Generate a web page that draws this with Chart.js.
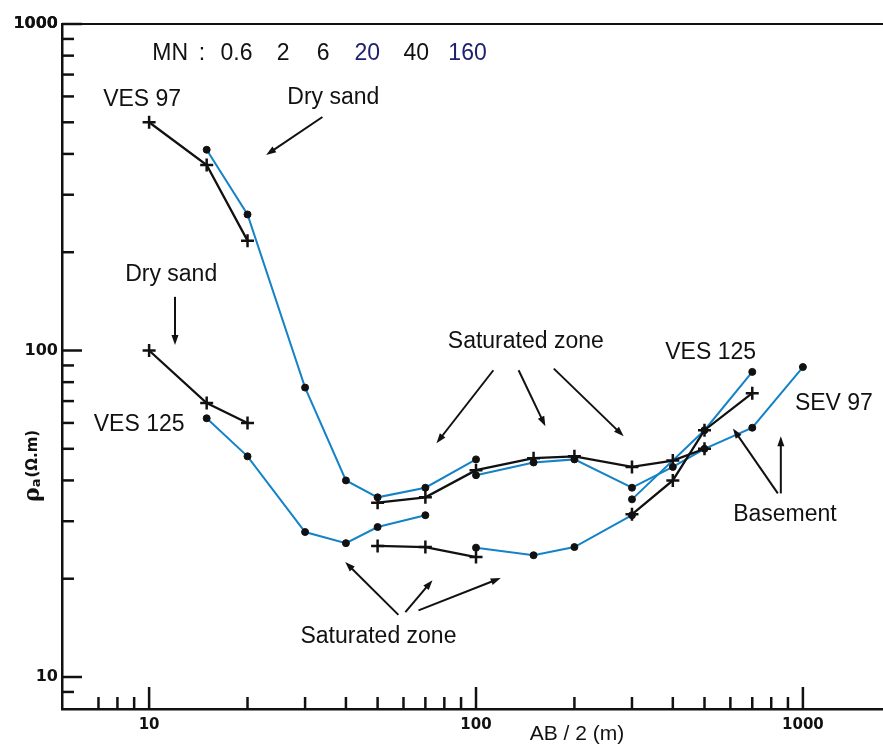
<!DOCTYPE html>
<html>
<head>
<meta charset="utf-8">
<script src="https://cdn.jsdelivr.net/npm/chart.js@4.4.1/dist/chart.umd.min.js"></script>
<style>
  html, body { margin: 0; padding: 0; background: #fff; }
  #wrap { width: 883px; height: 748px; }
</style>
</head>
<body>
<div id="wrap"><canvas id="soundingChart" width="883" height="748"></canvas></div>
<script>
// AB/2 (m) and apparent resistivity (ohm.m), one pair per MN segment
var ves97Seg1X = [10, 15, 20];
var ves97Seg1Y = [500, 370, 217];
var ves97Seg2X = [15, 20, 30, 40, 50, 70, 100];
var ves97Seg2Y = [412, 261, 77, 40, 35.5, 38, 46.4];
var ves97Seg3X = [50, 70, 100, 150, 200, 300, 400, 500];
var ves97Seg3Y = [34.2, 35.5, 43, 46.8, 47.4, 44, 46, 50];
var ves97Seg4X = [100, 150, 200, 300, 400, 500, 700, 1000];
var ves97Seg4Y = [41.5, 45.4, 46.4, 38, 44, 50, 58, 89];

var ves125Seg1X = [10, 15, 20];
var ves125Seg1Y = [100, 69, 60];
var ves125Seg2X = [15, 20, 30, 40, 50, 70];
var ves125Seg2Y = [62, 47.4, 27.8, 25.7, 28.8, 31.3];
var ves125Seg3X = [50, 70, 100];
var ves125Seg3Y = [25.2, 25, 23.3];
var ves125Seg4X = [100, 150, 200, 300];
var ves125Seg4Y = [24.9, 23.6, 25, 31.3];
var ves125Seg5X = [300, 400, 500, 700];
var ves125Seg5Y = [31.5, 40, 57, 74];
var ves125Seg6X = [300, 500, 700];
var ves125Seg6Y = [35, 57, 86];

// axis ticks
var xTicks = [7, 8, 9, 10, 20, 30, 40, 50, 60, 70, 80, 90, 100, 200, 300, 400, 500, 600, 700, 800, 900, 1000];
var yTicks = [9, 10, 20, 30, 40, 50, 60, 70, 80, 90, 100, 200, 300, 400, 500, 600, 700, 800, 900, 1000];
var majorTicks = [10, 100, 1000];
var mnLabels = ['MN', ':', '0.6', '2', '6', '20', '40', '160'];

// build one dataset for a segment: black crosses or blue line with dots
function segment(xs, ys, kind) {
  var cross = kind === 'cross';
  return {
    data: xs.map(function (x, i) { return { x: x, y: ys[i] }; }),
    showLine: true,
    borderColor: cross ? '#111' : '#1482c6',
    borderWidth: cross ? 2.3 : 2,
    pointStyle: cross ? 'cross' : 'circle',
    pointRadius: cross ? 6.5 : 3.5,
    pointBorderWidth: cross ? 2.5 : 1,
    pointBorderColor: '#111',
    pointBackgroundColor: '#111',
    tension: 0
  };
}

// annotation placement, in data units
var notes = [
  { text: 'VES 97', x: 9.52, y: 586 },
  { text: 'Dry sand', x: 36.6, y: 594 },
  { text: 'Dry sand', x: 11.68, y: 171 },
  { text: 'VES 125', x: 9.32, y: 59.4 },
  { text: 'Saturated zone', x: 142, y: 106.5 },
  { text: 'VES 125', x: 522, y: 98.6 },
  { text: 'SEV 97', x: 1244, y: 68.8 },
  { text: 'Basement', x: 881, y: 31.5 },
  { text: 'Saturated zone', x: 50.3, y: 13.25 }
];
var mnX = [11.6, 14.5, 18.5, 25.7, 34.1, 46.5, 65.7, 94.2];
var mnColor = ['#111', '#111', '#111', '#111', '#111', '#1c2270', '#111', '#1c2270'];
var arrows = [
  [33.9, 519, 22.8, 397],
  [12.0, 146, 12.0, 104],
  [113, 87, 75.7, 52],
  [135, 87, 163, 58.6],
  [173, 88, 283, 54.6],
  [57.9, 15.5, 39.8, 22.5],
  [60.8, 15.8, 73.6, 19.8],
  [66.7, 16.0, 119, 20.1],
  [838, 36.5, 611, 57.7],
  [856, 36.5, 856, 54.6]
];

var decor = {
  id: 'decor',
  afterDraw: function (chart) {
    var ctx = chart.ctx, sx = chart.scales.x, sy = chart.scales.y, a = chart.chartArea;
    ctx.save();
    ctx.strokeStyle = '#111';
    ctx.lineWidth = 2;
    // top frame line
    ctx.beginPath();
    ctx.moveTo(a.left, a.top);
    ctx.lineTo(a.right, a.top);
    ctx.stroke();
    // inward tick marks
    ctx.lineWidth = 2.5;
    yTicks.forEach(function (v) {
      var p = sy.getPixelForValue(v), len = majorTicks.indexOf(v) >= 0 ? 20 : 12;
      ctx.beginPath();
      ctx.moveTo(a.left, p);
      ctx.lineTo(a.left + len, p);
      ctx.stroke();
    });
    xTicks.forEach(function (v) {
      var p = sx.getPixelForValue(v), len = majorTicks.indexOf(v) >= 0 ? 22 : 12;
      ctx.beginPath();
      ctx.moveTo(p, a.bottom);
      ctx.lineTo(p, a.bottom - len);
      ctx.stroke();
    });
    // arrows
    ctx.lineWidth = 2;
    ctx.fillStyle = '#111';
    arrows.forEach(function (r) {
      var x1 = sx.getPixelForValue(r[0]), y1 = sy.getPixelForValue(r[1]);
      var x2 = sx.getPixelForValue(r[2]), y2 = sy.getPixelForValue(r[3]);
      var ang = Math.atan2(y2 - y1, x2 - x1);
      ctx.beginPath();
      ctx.moveTo(x1, y1);
      ctx.lineTo(x2 - 6 * Math.cos(ang), y2 - 6 * Math.sin(ang));
      ctx.stroke();
      ctx.beginPath();
      ctx.moveTo(x2, y2);
      ctx.lineTo(x2 - 10 * Math.cos(ang) + 3.5 * Math.sin(ang), y2 - 10 * Math.sin(ang) - 3.5 * Math.cos(ang));
      ctx.lineTo(x2 - 10 * Math.cos(ang) - 3.5 * Math.sin(ang), y2 - 10 * Math.sin(ang) + 3.5 * Math.cos(ang));
      ctx.closePath();
      ctx.fill();
    });
    // text notes
    ctx.font = '23px "Liberation Sans", Arial, sans-serif';
    ctx.textAlign = 'center';
    ctx.textBaseline = 'middle';
    notes.forEach(function (n) {
      ctx.fillText(n.text, sx.getPixelForValue(n.x), sy.getPixelForValue(n.y));
    });
    var mnY = sy.getPixelForValue(810);
    mnLabels.forEach(function (t, i) {
      ctx.fillStyle = mnColor[i];
      ctx.fillText(t, sx.getPixelForValue(mnX[i]), mnY);
    });
    // axis titles
    ctx.fillStyle = '#111';
    ctx.font = '21px "Liberation Sans", Arial, sans-serif';
    ctx.fillText('AB / 2 (m)', 577, 734);
    ctx.save();
    ctx.translate(33, 460);
    ctx.rotate(-Math.PI / 2);
    ctx.textAlign = 'left';
    ctx.font = 'bold 22px "DejaVu Serif", serif';
    ctx.fillText('\u03c1', -42, 0);
    var w = ctx.measureText('\u03c1').width;
    ctx.font = 'bold 13px "DejaVu Sans", sans-serif';
    ctx.fillText('a', -42 + w, 4);
    var w2 = ctx.measureText('a').width;
    ctx.font = 'bold 15px "DejaVu Sans", sans-serif';
    ctx.fillText('(\u03a9.m)', -42 + w + w2 + 1, 0);
    ctx.restore();
    ctx.restore();
  }
};

// an extra blank tick at each end keeps Chart.js from padding the axis for a label
function setTicks(list) {
  return function (s) {
    s.ticks = list.map(function (v) { return { value: v }; });
    s.ticks.push({ value: s.max });
    s.ticks.unshift({ value: s.min });
  };
}

var ctx = document.getElementById('soundingChart').getContext('2d');
var soundingChart = new Chart(ctx, {
  type: 'scatter',
  data: {
    datasets: [
      segment(ves97Seg1X, ves97Seg1Y, 'cross'),
      segment(ves97Seg3X, ves97Seg3Y, 'cross'),
      segment(ves125Seg1X, ves125Seg1Y, 'cross'),
      segment(ves125Seg3X, ves125Seg3Y, 'cross'),
      segment(ves125Seg5X, ves125Seg5Y, 'cross'),
      segment(ves97Seg2X, ves97Seg2Y, 'dot'),
      segment(ves97Seg4X, ves97Seg4Y, 'dot'),
      segment(ves125Seg2X, ves125Seg2Y, 'dot'),
      segment(ves125Seg4X, ves125Seg4Y, 'dot'),
      segment(ves125Seg6X, ves125Seg6Y, 'dot')
    ]
  },
  options: {
    responsive: false,
    devicePixelRatio: 1,
    animation: false,
    layout: { autoPadding: false, padding: { left: 0, top: 24, right: 0, bottom: 0 } },
    plugins: { legend: { display: false }, tooltip: { enabled: false } },
    scales: {
      x: {
        type: 'logarithmic',
        min: 5.414,
        max: 1758,
        grid: { display: false, drawTicks: false },
        border: { display: true, color: '#111', width: 2.5 },
        afterBuildTicks: setTicks(xTicks),
        afterFit: function (s) { s.height = 39; s.paddingRight = 0; s.paddingLeft = 0; },
        ticks: {
          autoSkip: false,
          maxRotation: 0,
          padding: 7,
          color: '#111',
          font: { family: 'DejaVu Sans', weight: 'bold', size: 15 },
          callback: function (v) { return majorTicks.indexOf(v) >= 0 ? String(v) : ''; }
        }
      },
      y: {
        type: 'logarithmic',
        min: 7.98,
        max: 1000,
        grid: { display: false, drawTicks: false },
        border: { display: true, color: '#111', width: 2.5 },
        afterBuildTicks: setTicks(yTicks),
        afterFit: function (s) { s.width = 62; },
        ticks: {
          autoSkip: false,
          padding: 4,
          color: '#111',
          font: { family: 'DejaVu Sans', weight: 'bold', size: 16 },
          callback: function (v) { return majorTicks.indexOf(v) >= 0 ? String(v) : ''; }
        }
      }
    }
  },
  plugins: [decor]
});
</script>
</body>
</html>
